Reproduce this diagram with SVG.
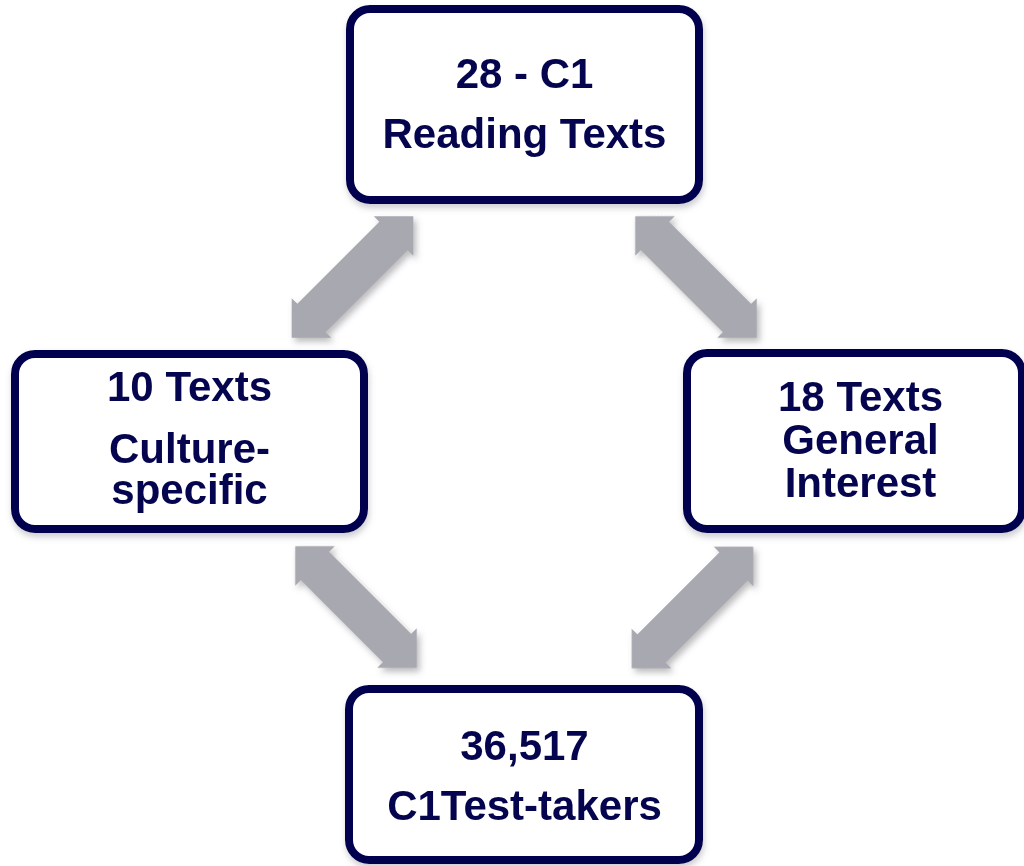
<svg xmlns="http://www.w3.org/2000/svg" width="1024" height="866" viewBox="0 0 1024 866">
  <defs>
    <filter id="sh" x="-20%" y="-20%" width="140%" height="140%">
      <feDropShadow dx="3" dy="4" stdDeviation="3" flood-color="#6a6a70" flood-opacity="0.45"/>
    </filter>
    <filter id="bsh" x="-10%" y="-10%" width="120%" height="125%">
      <feDropShadow dx="1" dy="4" stdDeviation="3" flood-color="#808090" flood-opacity="0.4"/>
    </filter>
    <polygon id="dblArrow" points="86,0 58,-28 58,-20 -58,-20 -58,-28 -86,0 -58,28 -58,20 58,20 58,28"/>
  </defs>
  <style>
    .box { fill: #ffffff; stroke: #05054f; stroke-width: 8; }
    .lbl { font-family: "Liberation Sans", Arial, sans-serif; font-weight: bold; font-size: 42px; fill: #05054f; text-anchor: middle; }
    .arr { fill: #a7a8b0; }
  </style>
  <rect width="1024" height="866" fill="#ffffff"/>

  <g id="connectors" filter="url(#sh)">
    <use href="#dblArrow" class="arr" transform="translate(352.5,277) rotate(-45)"/>
    <use href="#dblArrow" class="arr" transform="translate(696,277) rotate(45)"/>
    <use href="#dblArrow" class="arr" transform="translate(356,607) rotate(45)"/>
    <use href="#dblArrow" class="arr" transform="translate(692.5,607.5) rotate(-45)"/>
  </g>

  <g id="node-reading-texts">
    <rect class="box" x="350" y="9" width="349" height="191" rx="20" filter="url(#bsh)"/>
    <text class="lbl" x="524.5" y="88">28 - C1</text>
    <text class="lbl" x="524.5" y="148">Reading Texts</text>
  </g>

  <g id="node-culture-specific">
    <rect class="box" x="15" y="354" width="349" height="175" rx="20" filter="url(#bsh)"/>
    <text class="lbl" x="189.5" y="401">10 Texts</text>
    <text class="lbl" x="189.5" y="463">Culture-</text>
    <text class="lbl" x="189.5" y="504">specific</text>
  </g>

  <g id="node-general-interest">
    <rect class="box" x="687" y="353" width="335" height="176" rx="20" filter="url(#bsh)"/>
    <text class="lbl" x="860.5" y="411">18 Texts</text>
    <text class="lbl" x="860.5" y="454">General</text>
    <text class="lbl" x="860.5" y="497">Interest</text>
  </g>

  <g id="node-test-takers">
    <rect class="box" x="349" y="689" width="350" height="171" rx="20" filter="url(#bsh)"/>
    <text class="lbl" x="524.5" y="760">36,517</text>
    <text class="lbl" x="524.5" y="820">C1Test-takers</text>
  </g>
</svg>
